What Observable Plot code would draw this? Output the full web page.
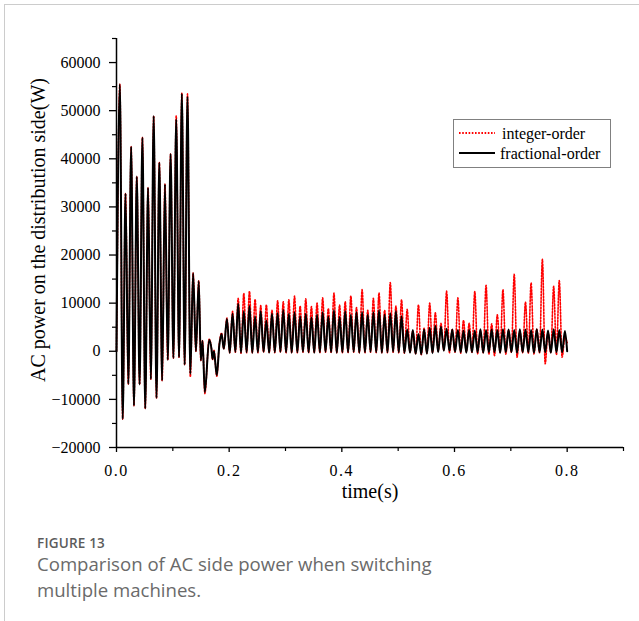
<!DOCTYPE html>
<html>
<head>
<meta charset="utf-8">
<script src="https://cdn.jsdelivr.net/npm/d3@7"></script>
<script src="https://cdn.jsdelivr.net/npm/@observablehq/plot@0.6"></script>
<style>
  body { margin: 0; background: #fff; }
  #wrap { position: relative; width: 639px; height: 621px; overflow: hidden; background: #fff; }
  #frame { position: absolute; left: 4px; top: 4px; right: -2px; bottom: -2px;
           border-left: 1px solid #cccccc; border-top: 1px solid #cccccc; pointer-events: none; }
  #chart { position: absolute; left: 0; top: 0; }
  #legend { position: absolute; left: 453px; top: 119px; width: 156px; height: 47px;
            border: 1px solid #808080; background: #fff; font-family: "Liberation Serif", serif;
            font-size: 16px; color: #000; }
  #legend .sample { position: absolute; left: 5px; width: 36px; height: 4px; }
  #legend .lab { position: absolute; line-height: 18px; white-space: nowrap; }
  #caption { position: absolute; left: 37px; top: 535px; font-family: "Open Sans", "Noto Sans", sans-serif; }
  #caption .fig { font-size: 13.5px; font-weight: 600; color: #5c5c5c; line-height: 16px; height: 16px; letter-spacing: 0.2px; }
  #caption .txt { font-size: 18.6px; color: #6a6a6a; line-height: 20px; height: 20px; white-space: nowrap; }
  #caption .fig + .txt { margin-top: 3px; }
  #caption .txt + .txt { margin-top: 6px; }
</style>
</head>
<body>
<div id="wrap">
  <div id="chart"></div>
  <div id="legend"></div>
  <div id="caption"></div>
  <div id="frame"></div>
</div>
<script>
// ---------------- data ----------------
const seriesNames = ["integer-order", "fractional-order"];
const xTicksMajor = [0, 0.2, 0.4, 0.6, 0.8];
const xTicksMinor = [0.1, 0.3, 0.5, 0.7, 0.9];
const yTicksMajor = [-20000, -10000, 0, 10000, 20000, 30000, 40000, 50000, 60000];
const yTicksMinor = [-15000, -5000, 5000, 15000, 25000, 35000, 45000, 55000, 65000];

// sampling instants (s) of the read peaks / troughs
const startTime = [0];
const earlyTimes = d3.range(29).map(j => 0.006 + 0.005 * j);          // 0.006 … 0.146
const transientTimes = [0.1497, 0.1527, 0.1568, 0.1645, 0.1686, 0.1705, 0.173, 0.178, 0.1825, 0.1865, 0.1905];
const steadyTimes = d3.range(122).map(j => Math.min(0.8, 0.196 + 0.005 * j)); // 0.196 … 0.8

// start value (W)
const startValue = [0];

// fractional-order, first 0.146 s (peak, trough, peak, …)
const fracEarly = [55500, -14100, 32800, -6800, 42500, -11300, 36300, -6900, 44400, -11900,
  34000, -5800, 48900, -9700, 39200, -6100, 34700, -1800, 41000, -1400,
  48200, -1250, 53500, -2800, 52900, -4700, 16250, 0, 14600];
// integer-order, first 0.146 s
const intEarly = [55500, -14100, 32800, -6800, 42500, -11300, 36300, -6900, 44400, -11900,
  34000, -5800, 48900, -9700, 39200, -6100, 34700, -1800, 41000, -1400,
  48900, -1250, 53700, -2800, 53500, -5300, 16250, 0, 14600];

// switching transient 0.15 – 0.19 s
const fracTransient = [-1900, 2200, -8500, 2350, 500, -1600, 0, -5000, 1200, 3600, 500];
const intTransient  = [-1900, 2200, -8800, 2500, 500, -1800, 200, -5200, 1500, 3800, 500];

// steady part: peaks of cycles 0.196 s … 0.796 s
const fracPeaks = [6700, 7800, 9900, 8300, 9400, 7200, 8300, 6400, 7800, 7900,
  8600, 7800, 8100, 7300, 7800, 7000, 7600, 8100, 7200, 8500,
  7100, 8300, 7600, 8100, 8100, 7600, 8100, 8500, 7600, 7900,
  8300, 7300,
  4500, 4400, 3600, 4500, 4900, 5300, 5100, 4700, 4500, 4400,
  4300, 4400, 4300, 4600, 4400, 4500, 4400, 4600, 4500, 4400,
  4600, 4500, 4400, 4600, 4500, 4300, 4600, 4400, 4200];
const fracTroughs = [-300, -100, -300, -200, -300, -200, -100, -300, -200, -100,
  -200, -300, -200, -100, -200, -300, -200, -100, -200, -300,
  -200, -200, -100, -300, -200, -100, -200, -300, -200, -100,
  -200, -300,
  -300, -500, -600, -500, -400, -200, 100, 100, -100, -200,
  -300, -200, -200, -300, -200, -200, -300, -200, -200, -300,
  -200, -200, -300, -200, -200, -300, -200, -200, 0];
const intPeaks = [6900, 8300, 11000, 12000, 12500, 10800, 9500, 9650, 8500, 10500,
  10300, 10700, 11500, 9400, 10900, 9300, 10000, 11100, 8900, 12100,
  9600, 10300, 11500, 9100, 12800, 8500, 11000, 12100, 8500, 14300,
  9400, 10700,
  8700, 4200, 9650, 4800, 10000, 8000, 5800, 12500, 4600, 11100,
  6400, 5800, 12400, 4300, 13700, 5700, 7600, 12800, 4400, 16000,
  4200, 10200, 14200, 4600, 19100, 4000, 13500, 14700, 2900];
const intTroughs = [-300, -200, -400, -300, -300, -300, -200, -300, -300, -200,
  -300, -300, -300, -200, -300, -300, -300, -200, -300, -300,
  -300, -300, -200, -300, -300, -200, -300, -300, -300, -200,
  -300, -400,
  -200, -500, -700, -400, -300, 0, 200, -300, -200, -400,
  -100, -200, -500, -300, -600, -900, -300, -600, -200, -1250,
  -300, -400, -550, -300, -2600, -300, -700, -1250, 1800];

// ---------------- assemble ----------------
function interleave(p, q) { const out = []; p.forEach((v, i) => { out.push(v, q[i]); }); return out; }
const times = [...startTime, ...earlyTimes, ...transientTimes, ...steadyTimes];
const fracValues = [...startValue, ...fracEarly, ...fracTransient, ...interleave(fracPeaks, fracTroughs)];
const intValues  = [...startValue, ...intEarly,  ...intTransient,  ...interleave(intPeaks, intTroughs)];
const fracRows = times.map((t, i) => ({ t, v: fracValues[i], s: seriesNames[1] }));
const intRows  = times.map((t, i) => ({ t, v: intValues[i],  s: seriesNames[0] }));

const fmtY = d => (d < 0 ? "\u2212" : "") + Math.abs(d);
const fmtX = d => d.toFixed(1);

const chart = Plot.plot({
  width: 639,
  height: 515,
  marginLeft: 116,
  marginRight: 16,
  marginTop: 38,
  marginBottom: 68,
  style: { fontFamily: "'Liberation Serif', serif", fontSize: "16px", color: "#000", background: "transparent", overflow: "visible" },
  x: { domain: [0, 0.9], label: null },
  y: { domain: [-20000, 65000], label: null },
  marks: [
    Plot.line(intRows, { x: "t", y: "v", stroke: "#ff0000", strokeWidth: 1.6, strokeDasharray: "1.6,1.6", curve: "monotone-x" }),
    Plot.line(fracRows, { x: "t", y: "v", stroke: "#000", strokeWidth: 2, curve: "monotone-x" }),
    Plot.ruleX([0], { stroke: "#000", strokeWidth: 1.5 }),
    Plot.ruleY([-20000], { stroke: "#000", strokeWidth: 1.5 }),
    Plot.axisY(yTicksMajor, { tickSize: 7, tickPadding: 9, tickFormat: fmtY, fontSize: 16, strokeWidth: 1.3, label: null }),
    Plot.axisY(yTicksMinor, { tickSize: 4, text: null, strokeWidth: 1.2, label: null }),
    Plot.axisX(xTicksMajor, { tickSize: 5, tickPadding: 12, tickFormat: fmtX, fontSize: 16, strokeWidth: 1.3, label: null }),
    Plot.axisX(xTicksMinor, { tickSize: 4, text: null, strokeWidth: 1.2, label: null }),
    Plot.text(["AC power on the distribution side(W)"], { frameAnchor: "left", textAnchor: "middle", lineAnchor: "middle", dx: -78, dy: -13, rotate: -90, fontSize: 20, fill: "#000" }),
    Plot.text(["time(s)"], { frameAnchor: "bottom", textAnchor: "middle", dy: 50, fontSize: 20, fill: "#000" })
  ]
});
chart.querySelectorAll("g[aria-label='x-axis tick label'] text").forEach(t => t.setAttribute("letter-spacing", "1.5"));
document.getElementById("chart").appendChild(chart);

// ---------------- legend ----------------
const legend = document.getElementById("legend");
const legendStyles = [
  { stroke: "#ff0000", dash: "1.6,1.6", top: 13, textLeft: 48, textTop: 5 },
  { stroke: "#000000", dash: null, top: 33, textLeft: 46, textTop: 25 }
];
seriesNames.forEach((name, i) => {
  const st = legendStyles[i];
  const ns = "http://www.w3.org/2000/svg";
  const svg = document.createElementNS(ns, "svg");
  svg.setAttribute("class", "sample");
  svg.setAttribute("width", "36"); svg.setAttribute("height", "4");
  svg.style.top = (st.top - 2) + "px";
  const ln = document.createElementNS(ns, "line");
  ln.setAttribute("x1", "0"); ln.setAttribute("x2", "36");
  ln.setAttribute("y1", "2"); ln.setAttribute("y2", "2");
  ln.setAttribute("stroke", st.stroke); ln.setAttribute("stroke-width", "2");
  if (st.dash) ln.setAttribute("stroke-dasharray", st.dash);
  svg.appendChild(ln);
  legend.appendChild(svg);
  const lab = document.createElement("span");
  lab.className = "lab";
  lab.style.left = st.textLeft + "px";
  lab.style.top = st.textTop + "px";
  lab.textContent = name;
  legend.appendChild(lab);
});

// ---------------- caption ----------------
const captionLines = ["Comparison of AC side power when switching", "multiple machines."];
const cap = document.getElementById("caption");
const fig = document.createElement("div"); fig.className = "fig"; fig.textContent = "FIGURE 13"; cap.appendChild(fig);
captionLines.forEach(l => { const d = document.createElement("div"); d.className = "txt"; d.textContent = l; cap.appendChild(d); });
</script>
</body>
</html>
